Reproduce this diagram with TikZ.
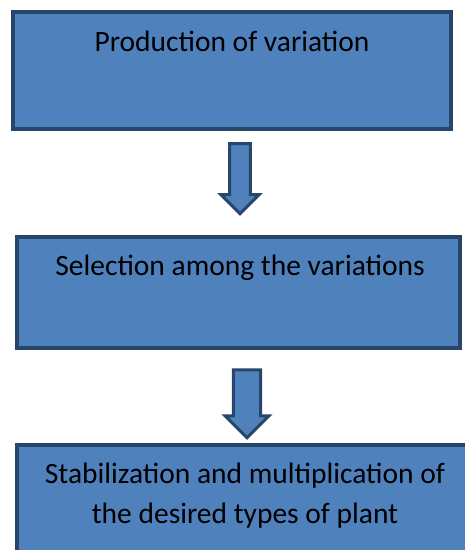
\documentclass[tikz,border=0pt]{standalone}
\usepackage{fontspec}
\setmainfont{Carlito}
\usepackage{tikz}
\usetikzlibrary{shapes.arrows, positioning}
\definecolor{stageblue}{RGB}{79,129,189}
\definecolor{stageedge}{RGB}{40,70,105}
\tikzset{
  stage/.style={
    rectangle, draw=stageedge, fill=stageblue,
    line width=4pt, inner sep=0pt
  },
  stagetext/.style={
    font=\fontsize{29.5}{40}\selectfont, text=black,
    align=center, inner sep=0pt, anchor=base
  },
  downarrow/.style={
    single arrow, shape border rotate=270,
    draw=stageedge, fill=stageblue, line width=3pt,
    inner ysep=0pt, single arrow head indent=0pt
  }
}

\begin{document}
\begin{tikzpicture}
  \clip (0pt,0pt) rectangle (465pt,-550pt);

  % Boxes
  \node[stage, minimum width=438pt, minimum height=117pt] (prod) at (232pt,-70.5pt) {};
  \node[stage, minimum width=443pt, minimum height=111pt] (sel) at (238.5pt,-292.5pt) {};
  \node[stage, minimum width=463pt, minimum height=135pt] (stab) at (248.5pt,-512.5pt) {};

  % Texts
  \node[stagetext] (prodtext) at ([xshift=0pt, yshift=-41pt]prod.north) {Production of variation};
  \node[stagetext] (seltext) at ([xshift=1.5pt, yshift=-40pt]sel.north) {Selection among the variations};
  \node[stagetext] (stabtext) at ([xshift=-3.5pt, yshift=-80pt]stab.north)
    {Stabilization and multiplication of\\the desired types of plant};

  % Block arrows between stages
  \node[downarrow, inner xsep=7pt, minimum height=70pt, minimum width=38pt] (arrowone) at (240pt,-173.5pt) {};
  \node[downarrow, inner xsep=10pt, minimum height=68pt, minimum width=44pt] (arrowtwo) at (247pt,-397pt) {};

\end{tikzpicture}
\end{document}
